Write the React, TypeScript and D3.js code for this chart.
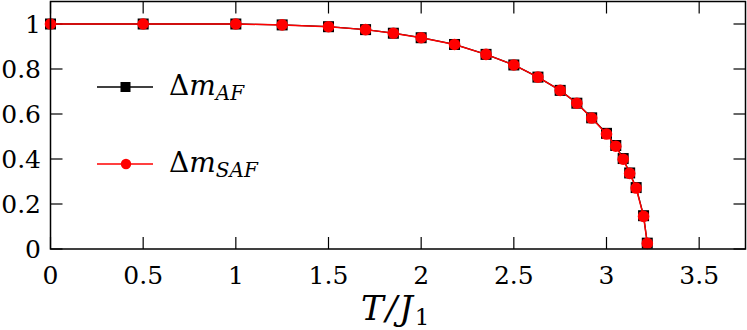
import React, { useEffect, useRef } from "react";
import * as d3 from "d3";

// temperature T/J1
const temps = [
  0, 0.5, 1, 1.25, 1.5, 1.7, 1.85, 2.0, 2.18, 2.35, 2.5, 2.63, 2.75, 2.84,
  2.92, 3.0, 3.05, 3.09, 3.125, 3.16, 3.2, 3.22,
];
// order parameter, AF
const mAF = [
  1, 1, 1, 0.996, 0.988, 0.975, 0.959, 0.939, 0.909, 0.865, 0.818, 0.764,
  0.705, 0.648, 0.583, 0.514, 0.46, 0.402, 0.338, 0.273, 0.148, 0.026,
];
// order parameter, SAF
const mSAF = [
  1, 1, 1, 0.996, 0.988, 0.975, 0.959, 0.939, 0.909, 0.865, 0.818, 0.764,
  0.705, 0.648, 0.582, 0.511, 0.457, 0.399, 0.336, 0.271, 0.145, 0.025,
];
const xTicks = [0, 0.5, 1, 1.5, 2, 2.5, 3, 3.5];
const yTicks = [0, 0.2, 0.4, 0.6, 0.8, 1];

const W = 747;
const H = 330;

const App = () => {
  const ref = useRef<SVGSVGElement>(null);

  useEffect(() => {
    const svg = d3.select(ref.current);
    svg.selectAll("*").remove();

    const left = 50.5;
    const right = 745.5;
    const top = 1.5;
    const bottom = 249;

    const x = d3.scaleLinear().domain([0, 3.75]).range([left, right]);
    const y = d3.scaleLinear().domain([0, 1.1]).range([bottom, top]);
    const font = '"DejaVu Serif", "Liberation Serif", serif';
    const tickLen = 12;

    const g = svg.append("g").style("font-family", font);

    // ticks (inward, all four sides)
    const tk = g.append("g").attr("stroke", "#000").attr("stroke-width", 1.2);
    xTicks.forEach((t) => {
      tk.append("line")
        .attr("x1", x(t)).attr("x2", x(t))
        .attr("y1", bottom).attr("y2", bottom - tickLen);
      tk.append("line")
        .attr("x1", x(t)).attr("x2", x(t))
        .attr("y1", top).attr("y2", top + tickLen);
    });
    yTicks.forEach((t) => {
      tk.append("line")
        .attr("x1", left).attr("x2", left + tickLen)
        .attr("y1", y(t)).attr("y2", y(t));
      tk.append("line")
        .attr("x1", right).attr("x2", right - tickLen)
        .attr("y1", y(t)).attr("y2", y(t));
    });

    // tick labels
    g.append("g")
      .selectAll("text")
      .data(xTicks)
      .join("text")
      .attr("x", (d) => x(d))
      .attr("y", 284)
      .attr("text-anchor", "middle")
      .style("font-size", "25px")
      .text((d) => d3.format("")(d));

    g.append("g")
      .selectAll("text")
      .data(yTicks)
      .join("text")
      .attr("x", 41)
      .attr("y", (d) => y(d))
      .attr("dy", "0.37em")
      .attr("text-anchor", "end")
      .style("font-size", "25px")
      .text((d) => d3.format("")(d));

    // axis title
    const title = g.append("text")
      .attr("x", 361)
      .attr("y", 320)
      .style("font-size", "34px")
      .style("font-style", "italic");
    title.append("tspan").text("T");
    title.append("tspan").attr("dx", 2).text("/");
    title.append("tspan").attr("dx", 2).text("J");
    title.append("tspan")
      .style("font-style", "normal")
      .style("font-size", "23px")
      .attr("dx", 2)
      .attr("dy", 5)
      .text("1");

    const line = d3.line<number>()
      .x((_, i) => x(temps[i]))
      .y((d) => y(d));

    // AF series
    g.append("path")
      .datum(mAF)
      .attr("fill", "none")
      .attr("stroke", "#000")
      .attr("stroke-width", 1.3)
      .attr("d", line);
    g.append("g")
      .selectAll("rect")
      .data(mAF)
      .join("rect")
      .attr("x", (_, i) => x(temps[i]) - 5.5)
      .attr("y", (d) => y(d) - 5.5)
      .attr("width", 11)
      .attr("height", 11)
      .attr("fill", "#000");

    // SAF series
    g.append("path")
      .datum(mSAF)
      .attr("fill", "none")
      .attr("stroke", "#ff0000")
      .attr("stroke-width", 1.5)
      .attr("d", line);
    g.append("g")
      .selectAll("circle")
      .data(mSAF)
      .join("circle")
      .attr("cx", (_, i) => x(temps[i]))
      .attr("cy", (d) => y(d))
      .attr("r", 5.8)
      .attr("fill", "#ff0000");

    // frame
    g.append("rect")
      .attr("x", left)
      .attr("y", top)
      .attr("width", right - left)
      .attr("height", bottom - top)
      .attr("fill", "none")
      .attr("stroke", "#000")
      .attr("stroke-width", 1.5);

    // legend
    const leg = g.append("g");
    const legItems = [
      { label: "AF", color: "#000", y: 87, shape: "square" },
      { label: "SAF", color: "#ff0000", y: 164, shape: "circle" },
    ];
    legItems.forEach((it) => {
      leg.append("line")
        .attr("x1", 97).attr("x2", 153)
        .attr("y1", it.y).attr("y2", it.y)
        .attr("stroke", it.color)
        .attr("stroke-width", 1.4);
      if (it.shape === "square") {
        leg.append("rect")
          .attr("x", 120.5).attr("y", it.y - 5)
          .attr("width", 10).attr("height", 10)
          .attr("fill", it.color);
      } else {
        leg.append("circle")
          .attr("cx", 126).attr("cy", it.y)
          .attr("r", 5.2)
          .attr("fill", it.color);
      }
      const t = leg.append("text")
        .attr("x", 169)
        .attr("y", it.y + 8)
        .style("font-size", "28px");
      t.append("tspan").text("Δ");
      t.append("tspan").style("font-style", "italic").text("m");
      t.append("tspan")
        .style("font-style", "italic")
        .style("font-size", "20px")
        .attr("dy", 5)
        .text(it.label);
    });
  }, []);

  return (
    <svg
      ref={ref}
      width={W}
      height={H}
      style={{ position: "absolute", left: 0, top: 0, background: "#fff" }}
    />
  );
};

export default App;
